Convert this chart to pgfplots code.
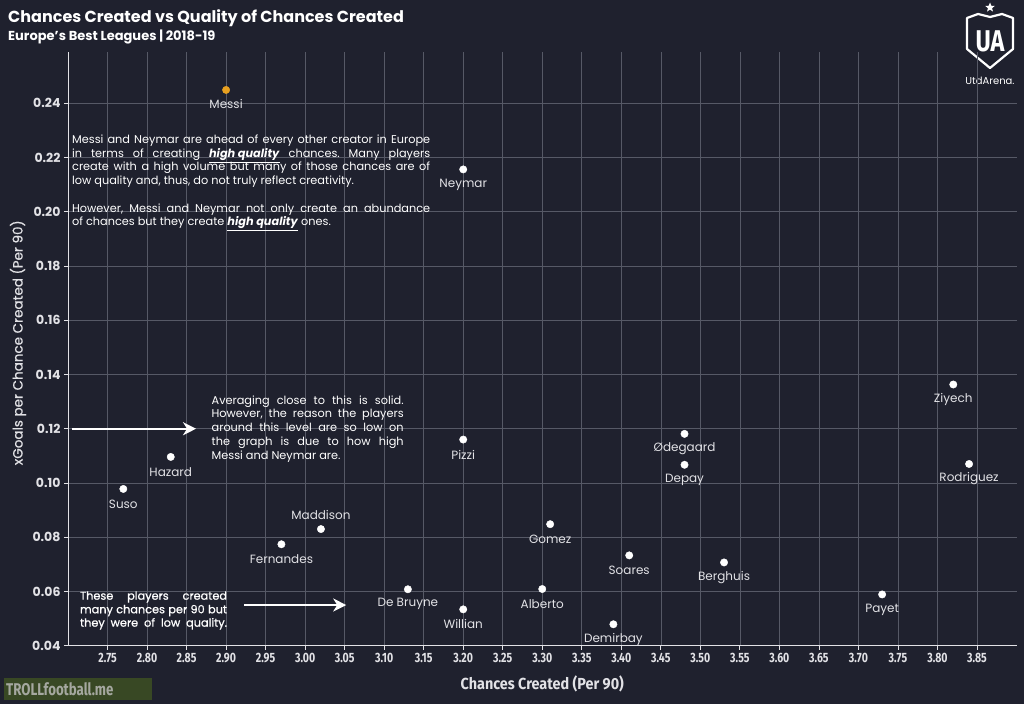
\documentclass[border=0pt]{standalone}
\usepackage{fontspec}
\usepackage{pgfplots}
\pgfplotsset{compat=1.18}
\usepackage{pgfplotstable}
\usetikzlibrary{arrows.meta,shapes.geometric}
\setmainfont{Poppins}
\newfontfamily\condfont[FakeStretch=0.78]{Fira Sans}
\newfontfamily\labfont[FakeStretch=0.9]{Fira Sans}
\definecolor{bg}{RGB}{31,33,46}
\definecolor{gridc}{RGB}{86,89,102}
\definecolor{txt}{RGB}{226,226,230}
\definecolor{messi}{RGB}{232,160,32}
\definecolor{wmgreen}{RGB}{56,72,36}
\definecolor{wmtext}{RGB}{165,168,160}
\frenchspacing

\pgfplotstableread[col sep=comma]{
x,y,name
2.90,0.2449,Messi
}\messitab
\pgfplotstableread[col sep=comma]{
x,y,name
3.20,0.2156,Neymar
3.82,0.1363,Ziyech
3.48,0.1181,Ødegaard
3.48,0.1067,Depay
3.84,0.1070,Rodriguez
3.20,0.1160,Pizzi
2.83,0.1096,Hazard
2.77,0.0978,Suso
2.97,0.0774,Fernandes
3.31,0.0848,Gomez
3.41,0.0733,Soares
3.53,0.0707,Berghuis
3.13,0.0608,De Bruyne
3.30,0.0609,Alberto
3.20,0.0534,Willian
3.39,0.0479,Demirbay
3.73,0.0589,Payet
}\belowtab
\pgfplotstableread[col sep=comma]{
x,y,name
3.02,0.0830,Maddison
}\abovetab

\newcommand{\hq}{\underline{\textbf{\textit{high quality}}}}

\begin{document}
\begin{tikzpicture}[x=1pt,y=1pt]
\path[use as bounding box] (0,0) rectangle (1024,704);
\fill[bg] (0,0) rectangle (1024,704);
% title
\node[anchor=base west, text=white, font=\bfseries\fontsize{16}{18}\selectfont, inner sep=0pt] at (8,681) {Chances Created vs Quality of Chances Created};
\node[anchor=base west, text=white, font=\bfseries\fontsize{13}{14}\selectfont, inner sep=0pt] at (8,663) {Europe's Best Leagues | 2018-19};
% watermark
\fill[wmgreen] (4,4) rectangle (152,26);
\node[anchor=west, text=wmtext, font=\condfont\bfseries\fontsize{17}{18}\selectfont, inner sep=0pt] at (6,15) {TROLLfootball.me};
% logo
\draw[white, line width=2.2pt, line join=round] (967,686) -- (978,690) -- (990,687) -- (1002,690) -- (1013,686) -- (1013,655) -- (990,636) -- (967,655) -- cycle;
\node[text=white, font=\condfont\bfseries\fontsize{30}{30}\selectfont, inner sep=0pt] at (990,663) {UA};
\node[text=white, font=\fontsize{10}{10}\selectfont, inner sep=0pt] at (990,623) {UtdArena.};
\node[star, star points=5, star point ratio=2.3, fill=white, minimum size=10pt, inner sep=0pt] at (990,696.5) {};
\begin{axis}[
  at={(68pt,58.3pt)}, anchor=south west,
  scale only axis, width=948.5pt, height=594pt,
  xmin=2.70, xmax=3.90, ymin=0.04, ymax=0.259,
  axis x line=bottom, axis y line=left,
  axis line style={-, color=txt, line width=0.9pt},
  xtick={2.75,2.80,2.85,2.90,2.95,3.00,3.05,3.10,3.15,3.20,3.25,3.30,3.35,3.40,3.45,3.50,3.55,3.60,3.65,3.70,3.75,3.80,3.85},
  ytick={0.04,0.06,0.08,0.10,0.12,0.14,0.16,0.18,0.20,0.22,0.24},
  grid=major, major grid style={color=gridc, line width=0.6pt},
  tick align=outside, major tick length=4pt,
  tick style={color=txt, line width=0.8pt},
  /pgf/number format/assume math mode=true,
  /pgf/number format/.cd, fixed, fixed zerofill, precision=2, /pgfplots/.cd,
  xticklabel style={font=\condfont\bfseries\fontsize{13.5}{14}\selectfont, text=txt},
  yticklabel style={font=\bfseries\fontsize{12.5}{14}\selectfont, text=txt},
  xlabel={Chances Created (Per 90)},
  ylabel={xGoals per Chance Created (Per 90)},
  xlabel style={font=\labfont\bfseries\fontsize{16}{17}\selectfont, text=txt, at={(axis description cs:0.5,-0.064)}, anchor=center},
  ylabel style={font=\fontsize{13.5}{15}\selectfont\addfontfeature{FakeBold=0.6}, text=txt, at={(axis description cs:-0.0527,0.51)}, anchor=center},
  clip=false,
]
\addplot[only marks, mark=*, mark size=3.7pt, color=white,
  nodes near coords, point meta=explicit symbolic,
  every node near coord/.style={anchor=center, yshift=-15pt, font=\fontsize{12}{13}\selectfont, text=txt, inner sep=0pt}]
  table[x=x, y=y, meta=name] {\belowtab};
\addplot[only marks, mark=*, mark size=3.7pt, color=white,
  nodes near coords, point meta=explicit symbolic,
  every node near coord/.style={anchor=center, yshift=14pt, font=\fontsize{12}{13}\selectfont, text=txt, inner sep=0pt}]
  table[x=x, y=y, meta=name] {\abovetab};
\addplot[only marks, mark=*, mark size=3.7pt, color=messi,
  nodes near coords, point meta=explicit symbolic,
  every node near coord/.style={anchor=center, yshift=-14pt, font=\fontsize{12}{13}\selectfont, text=txt, inner sep=0pt}]
  table[x=x, y=y, meta=name] {\messitab};
% annotation 1
\begin{scope}[every node/.style={anchor=base west, inner sep=0pt, text=white, font=\fontsize{11.3}{13.6}\selectfont}]
\node at (axis cs:2.705,0.22499) {\makebox[358pt][s]{Messi and Neymar are ahead of every other creator in Europe}};
\node at (axis cs:2.705,0.22009) {\makebox[358pt][s]{in terms of creating \hq{} chances. Many players}};
\node at (axis cs:2.705,0.21515) {\makebox[358pt][s]{create with a high volume but many of those chances are of}};
\node at (axis cs:2.705,0.20999) {low quality and, thus, do not truly reflect creativity.};
\node at (axis cs:2.705,0.19981) {\makebox[358pt][s]{However, Messi and Neymar not only create an abundance}};
\node at (axis cs:2.705,0.19487) {of chances but they create \hq{} ones.};
% annotation 2
\node at (axis cs:2.8815,0.12886) {\makebox[192pt][s]{Averaging close to this is solid.}};
\node at (axis cs:2.8815,0.12396) {\makebox[192pt][s]{However, the reason the players}};
\node at (axis cs:2.8815,0.11891) {\makebox[192pt][s]{around this level are so low on}};
\node at (axis cs:2.8815,0.11375) {\makebox[192pt][s]{the graph is due to how high}};
\node at (axis cs:2.8815,0.10873) {Messi and Neymar are.};
\end{scope}
% annotation 3
\begin{scope}[every node/.style={anchor=base west, inner sep=0pt, text=white, font=\fontsize{11.3}{13.4}\selectfont\addfontfeature{FakeBold=0.8}}]
\node at (axis cs:2.715,0.05696) {\makebox[147pt][s]{These players created}};
\node at (axis cs:2.715,0.05195) {\makebox[147pt][s]{many chances per 90 but}};
\node at (axis cs:2.715,0.04701) {\makebox[147pt][s]{they were of low quality.}};
\end{scope}
\draw[white, line width=2.4pt, -{Stealth[length=13pt,width=13pt,inset=4pt]}] (axis cs:2.705,0.12) -- (axis cs:2.862,0.12);
\draw[white, line width=2.4pt, -{Stealth[length=13pt,width=13pt,inset=4pt]}] (axis cs:2.923,0.055) -- (axis cs:3.052,0.055);
\end{axis}
\end{tikzpicture}
\end{document}
